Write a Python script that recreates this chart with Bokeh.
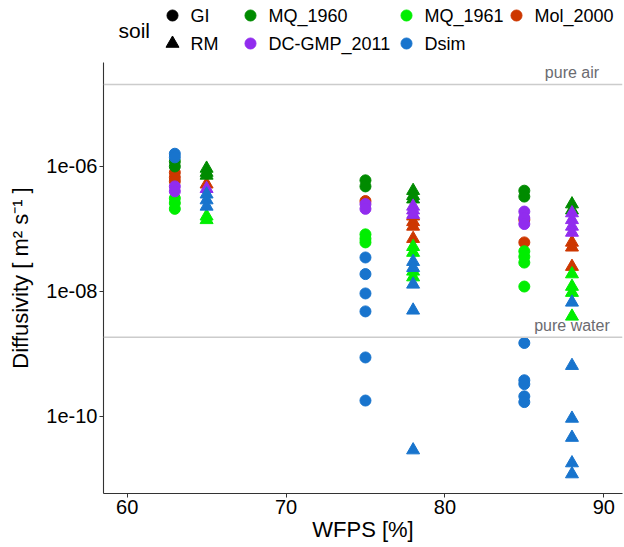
from bokeh.plotting import figure
from bokeh.models import Range1d, FixedTicker, CustomJSTickFormatter, Span
from bokeh.layouts import column
from bokeh.embed import file_html
from bokeh.resources import INLINE
from bokeh.core.properties import value

# ---------------- data ----------------
gi_wfps = [63, 75, 85]          # soil GI  -> circles
rm_wfps = [65, 78, 88]          # soil RM  -> triangles
soil_names = ["GI", "RM"]

source_names = ["MQ_1960", "DC-GMP_2011", "MQ_1961", "Dsim", "Mol_2000"]
source_colors = ["#008B00", "#912CEE", "#00EE00", "#1874CD", "#CD3700"]
draw_order = ["Mol_2000", "MQ_1961", "MQ_1960", "DC-GMP_2011", "Dsim"]

mq1960_wfps = [63, 63, 65, 65, 65, 75, 75, 78, 78, 78, 85, 85, 88, 88]
mq1960_diff = [1.2e-6, 1.0e-6, 9.3e-7, 8.0e-7, 7.2e-7, 6.0e-7, 4.8e-7,
               4.1e-7, 3.4e-7, 3.0e-7, 4.1e-7, 3.3e-7, 2.5e-7, 2.0e-7]

mol2000_wfps = [63, 63, 63, 65, 75, 78, 78, 78, 78, 85, 85, 88, 88, 88]
mol2000_diff = [8.0e-7, 6.7e-7, 5.8e-7, 5.2e-7, 2.8e-7, 1.6e-7, 1.3e-7,
                1.1e-7, 7.0e-8, 1.4e-7, 6.1e-8, 6.1e-8, 5.1e-8, 2.5e-8]

dcgmp_wfps = [63, 63, 65, 75, 75, 78, 78, 78, 85, 85, 85, 88, 88, 88, 88]
dcgmp_diff = [4.8e-7, 4.0e-7, 4.4e-7, 2.5e-7, 2.1e-7, 2.3e-7, 2.0e-7, 1.7e-7,
              1.9e-7, 1.5e-7, 1.2e-7, 1.8e-7, 1.4e-7, 1.1e-7, 8.8e-8]

mq1961_wfps = [63, 63, 63, 65, 65, 75, 75, 75, 78, 78, 78, 78,
               85, 85, 85, 85, 88, 88, 88, 88]
mq1961_diff = [3.1e-7, 2.6e-7, 2.1e-7, 1.6e-7, 1.4e-7, 8.2e-8, 7.0e-8, 6.1e-8,
               5.2e-8, 4.2e-8, 2.1e-8, 1.7e-8, 4.4e-8, 3.6e-8, 2.9e-8, 1.2e-8,
               1.9e-8, 1.2e-8, 9.6e-9, 4.0e-9]

dsim_wfps = [63, 63, 65, 65, 65, 75, 75, 75, 75, 75, 75, 78, 78, 78, 78, 78,
             85, 85, 85, 85, 85, 88, 88, 88, 88, 88, 88]
dsim_diff = [1.6e-6, 1.4e-6, 3.6e-7, 2.9e-7, 2.3e-7,
             3.5e-8, 1.9e-8, 9.3e-9, 4.8e-9, 8.8e-10, 1.8e-10,
             3.0e-8, 2.4e-8, 1.3e-8, 5.0e-9, 2.9e-11,
             1.5e-9, 3.8e-10, 3.3e-10, 2.1e-10, 1.7e-10,
             6.7e-9, 6.5e-10, 9.3e-11, 4.6e-11, 1.8e-11, 1.2e-11]

series = {
    "MQ_1960": (mq1960_wfps, mq1960_diff),
    "Mol_2000": (mol2000_wfps, mol2000_diff),
    "DC-GMP_2011": (dcgmp_wfps, dcgmp_diff),
    "MQ_1961": (mq1961_wfps, mq1961_diff),
    "Dsim": (dsim_wfps, dsim_diff),
}

pure_air = 2.05e-5
pure_water = 1.86e-9
ref_labels = ["pure air", "pure water"]
ref_label_x = 88

xtick_vals = [60, 70, 80, 90]
ytick_vals = [1e-10, 1e-8, 1e-6]
ytick_labels = ["1e-10", "1e-08", "1e-06"]

FONT = "Liberation Sans"
W = 624
LEG_H = 62
MAIN_H = 547 - LEG_H
BL, BR = 103, 2

# ---------------- main plot ----------------
p = figure(width=W, height=MAIN_H, y_axis_type="log",
           x_range=Range1d(58.51, 91.18), y_range=Range1d(5.86e-12, 4.61e-5),
           output_backend="svg", toolbar_location=None,
           min_border_left=BL, min_border_right=BR,
           min_border_top=0, min_border_bottom=54)
p.outline_line_color = None
p.grid.visible = False
p.background_fill_color = "white"

for val in (pure_air, pure_water):
    p.add_layout(Span(location=val, dimension="width", line_color="#CCCCCC", line_width=1.5))

p.text(x=[ref_label_x, ref_label_x], y=[pure_air, pure_water], text=ref_labels,
       text_align="center", text_baseline="bottom", y_offset=-3,
       text_color="#6B6B70", text_font=value(FONT), text_font_size="16px")

color_of = dict(zip(source_names, source_colors))
for name in draw_order:
    xs, ys = series[name]
    c = color_of[name]
    cx = [x for x in xs if x in gi_wfps]
    cy = [y for x, y in zip(xs, ys) if x in gi_wfps]
    tx = [x for x in xs if x in rm_wfps]
    ty = [y for x, y in zip(xs, ys) if x in rm_wfps]
    p.scatter(cx, cy, marker="circle", size=11, fill_color=c, line_color=c)
    p.scatter(tx, ty, marker="triangle", size=13, fill_color=c, line_color=c)

for ax in (p.xaxis, p.yaxis):
    ax.axis_line_color = "#333333"
    ax.axis_line_width = 1.1
    ax.major_tick_line_color = "#333333"
    ax.major_tick_out = 4
    ax.major_tick_in = 0
    ax.minor_tick_line_color = None
    ax.major_label_text_font = FONT
    ax.major_label_text_font_size = "20px"
    ax.major_label_text_color = "black"
    ax.axis_label_text_font = FONT
    ax.axis_label_text_font_size = "22px"
    ax.axis_label_text_font_style = "normal"
    ax.axis_label_text_color = "black"

p.xaxis.ticker = FixedTicker(ticks=xtick_vals)
p.xaxis.major_label_standoff = 2
p.xaxis.axis_label = "WFPS [%]"
p.xaxis.axis_label_standoff = 0
p.yaxis.ticker = FixedTicker(ticks=ytick_vals)
p.yaxis.major_label_standoff = 2
p.yaxis.axis_label = "Diffusivity [ m² s⁻¹ ]"
p.yaxis.axis_label_standoff = 10
p.yaxis.formatter = CustomJSTickFormatter(args=dict(vals=ytick_vals, labs=ytick_labels), code="""
let best = 0;
for (let i = 0; i < vals.length; i++) {
  if (Math.abs(Math.log10(vals[i]) - Math.log10(tick)) <
      Math.abs(Math.log10(vals[best]) - Math.log10(tick))) { best = i; }
}
return labs[best];
""")

# ---------------- legend strip (x in page pixels) ----------------
lf = figure(width=W, height=LEG_H, x_range=Range1d(BL, W - BR), y_range=Range1d(LEG_H, 0),
            output_backend="svg", toolbar_location=None,
            min_border_left=BL, min_border_right=BR, min_border_top=0, min_border_bottom=0,
            x_axis_location=None, y_axis_location=None)
lf.grid.visible = False
lf.outline_line_color = None

row_y = [15, 43]
shape_col_x = 172
color_col_x = [250, 250, 406, 406, 516]
color_row = [0, 1, 0, 1, 0]
txt_dx = 18

lf.text(x=[118], y=[30], text=["soil"], text_align="left", text_baseline="middle",
        text_font=value(FONT), text_font_size="21px", text_color="black")
lf.scatter([shape_col_x], [row_y[0]], marker="circle", size=11, color="black")
lf.scatter([shape_col_x], [row_y[1]], marker="triangle", size=13, color="black")
lf.text(x=[shape_col_x + txt_dx] * 2, y=row_y, text=soil_names,
        text_align="left", text_baseline="middle",
        text_font=value(FONT), text_font_size="18px", text_color="black")
ly = [row_y[r] for r in color_row]
lf.scatter(color_col_x, ly, marker="circle", size=11, color=source_colors)
lf.text(x=[cx + txt_dx for cx in color_col_x], y=ly, text=source_names,
        text_align="left", text_baseline="middle",
        text_font=value(FONT), text_font_size="18px", text_color="black")

layout = column(lf, p, spacing=0)
open("out.html", "w").write(file_html(layout, INLINE))
